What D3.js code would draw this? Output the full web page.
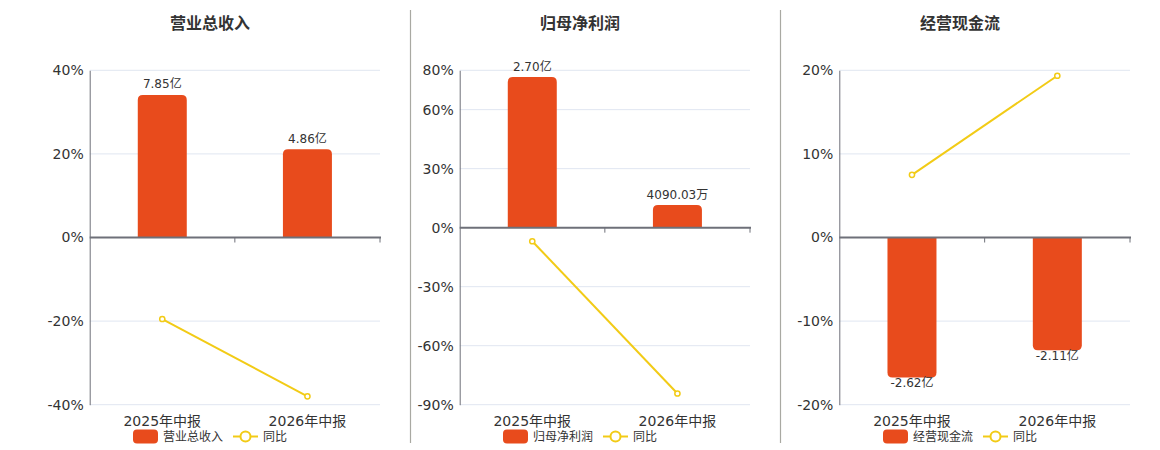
<!DOCTYPE html>
<html><head><meta charset="utf-8">
<script src="https://cdn.jsdelivr.net/npm/d3@7/dist/d3.min.js"></script>
<style>
html,body{margin:0;padding:0;background:#fff;}
svg{display:block;font-family:"DejaVu Sans","Noto Sans CJK SC",sans-serif;}
</style></head>
<body>
<svg id="chart" width="1160" height="450"></svg>
<script>
// ---- data ----
const categories = ["2025年中报", "2026年中报"];
const titles = ["营业总收入", "归母净利润", "经营现金流"];
const barValues = [[7.85, 4.86], [2.70, 0.409003], [-2.62, -2.11]]; // 亿
const barLabels = [["7.85亿", "4.86亿"], ["2.70亿", "4090.03万"], ["-2.62亿", "-2.11亿"]];
const yoyValues = [[-19.5, -38.0], [-6.9, -84.3], [7.5, 19.35]]; // %
const yTicks = [[-40, -20, 0, 20, 40], [-90, -60, -30, 0, 30, 60, 80], [-20, -10, 0, 10, 20]];
const barDomains = [[-9.21, 9.21], [-3.16, 2.82], [-3.13, 3.13]];
const legendNames = ["营业总收入", "归母净利润", "经营现金流", "同比"];

// ---- layout ----
const plotX = [[89.7, 380], [459.7, 750], [839.3, 1130]];
const centers = [210, 580, 960];
const separators = [410.5, 780.5];
const yTop = 70.3, yBottom = 404.7;
const barColor = "#E84B1C", lineColor = "#F2CB16";

const svg = d3.select("#chart");

separators.forEach(x => {
  svg.append("line").attr("x1", x).attr("x2", x).attr("y1", 10).attr("y2", 443)
    .attr("stroke", "#A9A9A2").attr("stroke-width", 1.2);
});

function barPath(x, w, y0, y1, r) {
  // rounded corners at the far end (y1) from baseline (y0)
  const h = Math.abs(y1 - y0);
  r = Math.min(r, h / 2, w / 2);
  if (y1 < y0) {
    return `M${x},${y0}V${y1 + r}Q${x},${y1} ${x + r},${y1}H${x + w - r}Q${x + w},${y1} ${x + w},${y1 + r}V${y0}Z`;
  } else {
    return `M${x},${y0}V${y1 - r}Q${x},${y1} ${x + r},${y1}H${x + w - r}Q${x + w},${y1} ${x + w},${y1 - r}V${y0}Z`;
  }
}

titles.forEach((title, i) => {
  const g = svg.append("g");
  const ticks = yTicks[i];
  const y = d3.scaleLinear().domain([d3.min(ticks), d3.max(ticks)]).range([yBottom, yTop]);
  const yb = d3.scaleLinear().domain(barDomains[i]).range([yBottom, yTop]);
  const x = d3.scaleBand().domain(categories).range(plotX[i]).paddingInner(0).paddingOuter(0);
  const x0 = plotX[i][0], x1 = plotX[i][1];

  // title
  g.append("text").attr("x", centers[i]).attr("y", 29).attr("text-anchor", "middle")
    .attr("font-size", 16).attr("font-weight", "bold").attr("fill", "#333").text(title);

  // grid lines
  g.selectAll(".grid").data(ticks.filter(t => t !== 0)).enter().append("line")
    .attr("x1", x0).attr("x2", x1).attr("y1", d => y(d)).attr("y2", d => y(d))
    .attr("stroke", "#E0E6F1").attr("stroke-width", 1);

  // y axis labels
  const yAxis = d3.axisLeft(y).tickValues(ticks).tickFormat(d => d + "%").tickSize(0).tickPadding(6);
  const ya = g.append("g").attr("transform", `translate(${x0},0)`).call(yAxis);
  ya.select(".domain").attr("stroke", "#6E7079").attr("stroke-width", 1);
  ya.selectAll("text").attr("font-size", 14).attr("fill", "#333")
    .attr("font-family", "DejaVu Sans, Noto Sans CJK SC, sans-serif");

  // bars
  const bw = 49;
  g.selectAll(".bar").data(barValues[i]).enter().append("path")
    .attr("d", (d, j) => {
      const cx = x(categories[j]) + x.bandwidth() / 2;
      return barPath(cx - bw / 2, bw, yb(0), yb(d), 5);
    })
    .attr("fill", barColor);

  // bar labels
  g.selectAll(".blabel").data(barValues[i]).enter().append("text")
    .attr("x", (d, j) => x(categories[j]) + x.bandwidth() / 2)
    .attr("y", d => d >= 0 ? yb(d) - 6.5 : yb(d) + 9.5)
    .attr("text-anchor", "middle").attr("font-size", 12).attr("fill", "#333")
    .text((d, j) => barLabels[i][j]);

  // zero line with ticks
  const zy = y(0);
  g.append("line").attr("x1", x0).attr("x2", x1 + 1).attr("y1", zy).attr("y2", zy)
    .attr("stroke", "#6E7079").attr("stroke-width", 2);
  const bounds = [x(categories[1]), x1];
  g.selectAll(".xt").data(bounds).enter().append("line")
    .attr("x1", d => d).attr("x2", d => d).attr("y1", zy).attr("y2", zy + 5)
    .attr("stroke", "#6E7079").attr("stroke-width", 1);

  // x labels
  g.selectAll(".xl").data(categories).enter().append("text")
    .attr("x", d => x(d) + x.bandwidth() / 2).attr("y", 425.5)
    .attr("text-anchor", "middle").attr("font-size", 14).attr("fill", "#333").text(d => d);

  // yoy line
  const line = d3.line().x((d, j) => x(categories[j]) + x.bandwidth() / 2).y(d => y(d));
  g.append("path").datum(yoyValues[i]).attr("d", line).attr("fill", "none")
    .attr("stroke", lineColor).attr("stroke-width", 2);
  g.selectAll(".pt").data(yoyValues[i]).enter().append("circle")
    .attr("cx", (d, j) => x(categories[j]) + x.bandwidth() / 2).attr("cy", d => y(d)).attr("r", 2.6)
    .attr("fill", "#fff").attr("stroke", lineColor).attr("stroke-width", 1.5);

  // legend
  const lg = g.append("g");
  const nameW = legendNames[i].length * 12;
  const totalW = 25 + 5 + nameW + 10 + 25 + 5 + 24;
  let lx = centers[i] - totalW / 2;
  const ly = 436.5;
  lg.append("rect").attr("x", lx).attr("y", ly - 7).attr("width", 25).attr("height", 14)
    .attr("rx", 4).attr("fill", barColor);
  lg.append("text").attr("x", lx + 30).attr("y", ly + 4.3).attr("font-size", 12).attr("fill", "#333")
    .text(legendNames[i]);
  lx += 30 + nameW + 10;
  lg.append("line").attr("x1", lx).attr("x2", lx + 25).attr("y1", ly).attr("y2", ly)
    .attr("stroke", lineColor).attr("stroke-width", 2);
  lg.append("circle").attr("cx", lx + 12.5).attr("cy", ly).attr("r", 5)
    .attr("fill", "#fff").attr("stroke", lineColor).attr("stroke-width", 2);
  lg.append("text").attr("x", lx + 30).attr("y", ly + 4.3).attr("font-size", 12).attr("fill", "#333")
    .text(legendNames[3]);
});
</script>
</body></html>
